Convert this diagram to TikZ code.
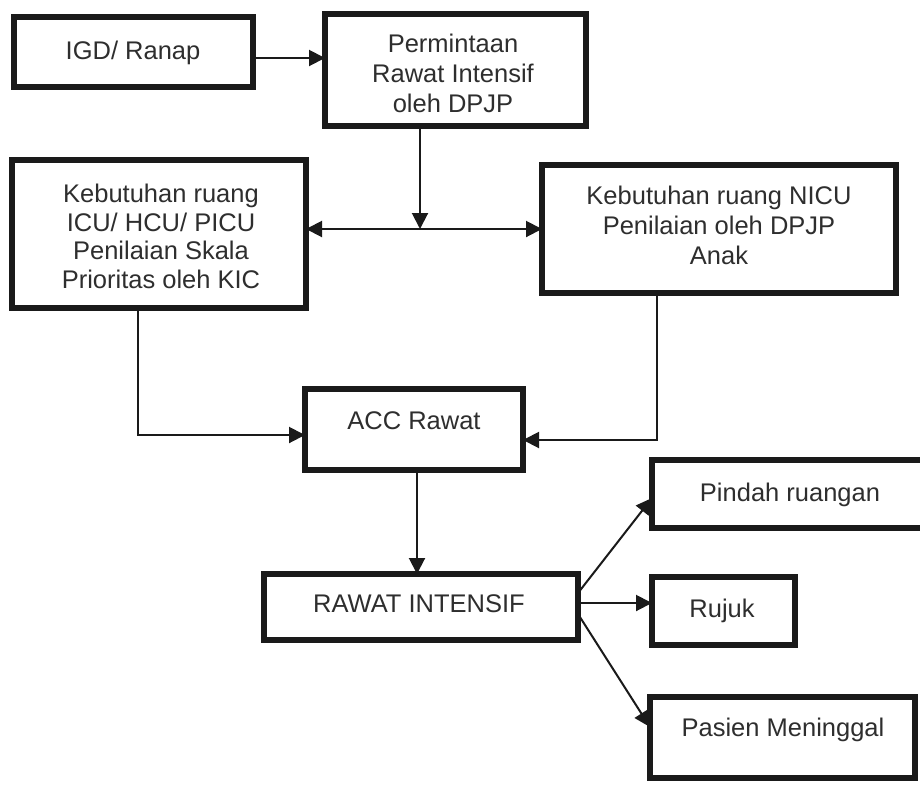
\documentclass[tikz,border=0pt]{standalone}
\usepackage{fontspec}
\setmainfont{Liberation Sans}
\usetikzlibrary{arrows.meta}
\definecolor{ink}{HTML}{1A1A1A}
\definecolor{txt}{HTML}{2E2E2E}
\tikzset{
  box/.style={draw=ink, line width=5.5pt, fill=white, inner sep=0pt, outer sep=0pt, anchor=center},
  lbl/.style={text=txt, align=center, inner sep=0pt, font=\fontsize{25.5}{30}\selectfont,
    execute at begin node=\strut, execute at end node=\strut},
  tip/.style={},
  arr/.style={draw=ink, line width=2pt, -{Triangle[length=16pt,width=16pt]}},
  arrtwo/.style={draw=ink, line width=2pt, {Triangle[length=16pt,width=16pt]}-{Triangle[length=16pt,width=16pt]}}
}
\begin{document}
\begin{tikzpicture}[x=1pt,y=-1pt]
\useasboundingbox (0,0) rectangle (920,785);
\fill[white] (0,0) rectangle (920,785);

% boxes
\node[box, minimum width=239pt, minimum height=70pt] (igd) at (133.5,52) {};
\node[box, minimum width=261pt, minimum height=112pt] (perm) at (455.5,70) {};
\node[box, minimum width=294pt, minimum height=148pt] (icu) at (159,234) {};
\node[box, minimum width=354pt, minimum height=128pt] (nicu) at (719,229) {};
\node[box, minimum width=218pt, minimum height=81pt] (acc) at (414,429.5) {};
\node[box, minimum width=314pt, minimum height=66pt] (rawat) at (421,607) {};
\node[box, minimum width=276pt, minimum height=68pt] (pindah) at (790,494) {};
\node[box, minimum width=143pt, minimum height=68pt] (rujuk) at (723.5,611) {};
\node[box, minimum width=265pt, minimum height=81pt] (pasien) at (782.5,737.5) {};

% texts
\node[lbl] (tigd) at (133,53) {IGD/ Ranap};
\node[lbl] (tperm) at (453,78) {Permintaan\\Rawat Intensif\\oleh DPJP};
\node[lbl, font=\fontsize{25.5}{28.5}\selectfont] (ticu) at (161,240.5) {Kebutuhan ruang\\ICU/ HCU/ PICU\\Penilaian Skala\\Prioritas oleh KIC};
\node[lbl] (tnicu) at (719,230) {Kebutuhan ruang NICU\\Penilaian oleh DPJP\\Anak};
\node[lbl] (tacc) at (414,423) {ACC Rawat};
\node[lbl] (trawat) at (419,606) {RAWAT INTENSIF};
\node[lbl] (tpindah) at (790,495) {Pindah ruangan};
\node[lbl] (trujuk) at (722,611) {Rujuk};
\node[lbl] (tpasien) at (783,730) {Pasien Meninggal};

% helper coordinates
\coordinate (ya) at (0,58);
\coordinate (j) at (420,229);
\coordinate (k1) at (138,435);
\coordinate (k2) at (657,440);
\coordinate (k3) at (417,0);
\coordinate (s1) at (0,593);
\coordinate (e1) at (0,498);
\coordinate (s2) at (0,603);
\coordinate (s3) at (0,614);
\coordinate (e3) at (0,727);

% connectors
\draw[arr] (igd.east |- ya) -- (perm.west |- ya);
\draw[arr] (perm.south -| j) -- (j);
\draw[arrtwo] (icu.east |- j) -- (nicu.west |- j);
\draw[arr] (icu.south -| k1) -- (k1) -- (acc.west |- k1);
\draw[arr] (nicu.south -| k2) -- (k2) -- (acc.east |- k2);
\draw[arr] (acc.south -| k3) -- (rawat.north -| k3);
\draw[arr] (rawat.east |- s1) -- (pindah.west |- e1);
\draw[arr] (rawat.east |- s2) -- (rujuk.west |- s2);
\draw[arr] (rawat.east |- s3) -- (pasien.west |- e3);
\end{tikzpicture}
\end{document}
